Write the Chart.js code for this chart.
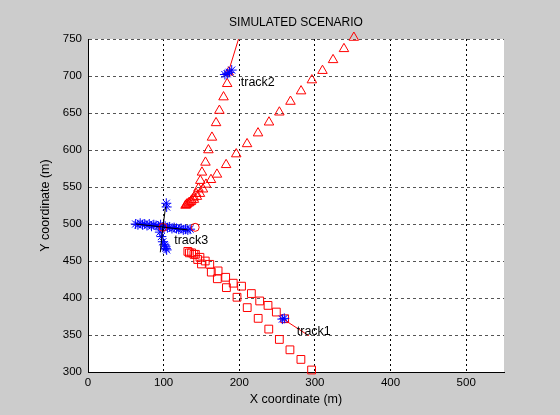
<!DOCTYPE html>
<html>
<head>
<meta charset="utf-8">
<script src="https://cdn.jsdelivr.net/npm/chart.js@4.4.1/dist/chart.umd.min.js"></script>
<style>
  html, body { margin: 0; padding: 0; background: #cccccc; }
  canvas { display: block; }
</style>
</head>
<body>
<canvas id="myChart" width="560" height="415"></canvas>
<script>
// axis ticks
const xTicks = [0, 100, 200, 300, 400, 500],
    yTicks = [300, 350, 400, 450, 500, 550, 600, 650, 700, 750];

// track1 (squares), two rows
const track1aX = [132, 137, 142, 148, 155, 161, 172, 182, 192, 203, 216, 227, 238, 249, 260],
    track1aY = [463, 461, 459, 455, 450, 445.5, 436.6, 428, 420, 416, 406, 396, 390, 381, 372],
    track1bX = [134, 140, 145, 150, 163, 171, 183, 197, 210.5, 225, 239, 253, 267, 281.5, 295.6],
    track1bY = [461, 459, 452, 446, 435, 426, 414, 401, 387, 372.5, 358, 344, 330, 317, 302.7];

// track2 (triangles), steep row and wide row
const track2aX = [129, 131, 134, 137, 140, 143, 146, 148.5, 150.7, 155.3, 159.2, 163.9, 169.3, 173.7, 179.2, 184, 186],
    track2aY = [525, 527, 529, 532, 536, 541, 548, 558.6, 569.8, 583.2, 600, 617, 636.6, 653.3, 671.5, 689.5, 705],
    track2bX = [130, 133, 136, 140, 144, 148, 152, 156, 162.6, 170.5, 182.6, 196, 210.3, 224.8, 239.3, 253, 267.7, 281.7, 296, 310, 324, 338.4, 351.5],
    track2bY = [526, 528, 530, 533, 537, 541, 547, 553.5, 559.8, 567, 580, 594.5, 608.2, 622.8, 637.5, 651, 665.5, 679.6, 694.5, 707.2, 721.8, 736.7, 752];

// blue detections (stars)
const starX = [63, 66, 69, 72, 75, 78, 81, 84, 87, 90, 93, 96, 99, 102, 105, 108, 111, 114, 117, 120, 123, 126, 129, 132, 135,
        95, 97, 99, 101, 102, 103, 104, 103.5, 104,
        181, 184, 187, 190,
        257, 259.5],
    starY = [500, 499, 501, 499, 500, 498, 500, 497, 499, 498, 497, 499, 496, 497, 495, 496, 494, 495, 494, 493, 494, 492, 493, 492, 493,
        489, 483, 476, 472, 470, 467, 465, 528, 523,
        702, 703, 705, 708,
        371.5, 372.5];

// red circles
const circleX = [99, 141.7],
    circleY = [495.5, 495.5];

// lines
const redLine2X = [184, 199], redLine2Y = [700, 750],
    redLine1X = [258, 292], redLine1Y = [371.5, 349],
    blackLineHX = [63.5, 131.7], blackLineHY = [500, 492],
    blackLineVX = [102.6, 99, 95.6], blackLineVY = [523.4, 495.5, 461.7];

// track labels
const trackNames = ['track1', 'track2', 'track3'],
    trackNameX = [276, 202, 114],
    trackNameY = [354, 691, 478];

const font = 'Liberation Sans, Arial, Helvetica, sans-serif';

function pts(xs, ys) {
    return xs.map((x, i) => ({ x: x, y: ys[i] }));
}

function markers(data, style, color, radius, order) {
    return {
        data: data,
        showLine: false,
        pointStyle: style,
        pointRadius: radius,
        borderColor: color,
        backgroundColor: 'rgba(0,0,0,0)',
        pointBorderWidth: 1,
        clip: false,
        order: order
    };
}

function line(data, color, order) {
    return {
        data: data,
        showLine: true,
        pointRadius: 0,
        borderColor: color,
        borderWidth: 1,
        fill: false,
        clip: false,
        order: order
    };
}

// grey figure and white axes
const background = {
    id: 'background',
    beforeDraw(chart) {
        const { ctx, chartArea } = chart;
        ctx.save();
        ctx.fillStyle = '#cccccc';
        ctx.fillRect(0, 0, chart.width, chart.height);
        ctx.fillStyle = '#ffffff';
        ctx.fillRect(chartArea.left, chartArea.top, chartArea.right - chartArea.left, chartArea.bottom - chartArea.top);
        ctx.restore();
    }
};

// track names placed with the scales
const trackText = {
    id: 'trackText',
    afterDatasetsDraw(chart) {
        const { ctx, scales } = chart;
        ctx.save();
        ctx.fillStyle = '#000';
        ctx.font = '12.5px ' + font;
        ctx.textAlign = 'left';
        ctx.textBaseline = 'middle';
        trackNames.forEach((name, i) => {
            ctx.fillText(name, scales.x.getPixelForValue(trackNameX[i]), scales.y.getPixelForValue(trackNameY[i]));
        });
        ctx.restore();
    }
};

const ctx = document.getElementById('myChart');

const myChart = new Chart(ctx, {
    type: 'scatter',
    data: {
        datasets: [
            line(pts(blackLineHX, blackLineHY), '#000000', 0),
            line(pts(blackLineVX, blackLineVY), '#000000', 0),
            markers(pts(circleX, circleY), 'circle', '#ff0000', 4, 1),
            markers(pts(starX, starY), 'star', '#0000ff', 5, 2),
            line(pts(redLine2X, redLine2Y), '#ff0000', 3),
            line(pts(redLine1X, redLine1Y), '#ff0000', 3),
            markers(pts(track1aX, track1aY), 'rect', '#ff0000', 5.5, 4),
            markers(pts(track1bX, track1bY), 'rect', '#ff0000', 5.5, 4),
            markers(pts(track2aX, track2aY), 'triangle', '#ff0000', 5.5, 4),
            markers(pts(track2bX, track2bY), 'triangle', '#ff0000', 5.5, 4)
        ]
    },
    options: {
        responsive: false,
        animation: false,
        events: [],
        layout: { padding: { right: 56 } },
        plugins: {
            legend: { display: false },
            tooltip: { enabled: false },
            title: {
                display: true,
                text: 'SIMULATED SCENARIO',
                color: '#000',
                fullSize: false,
                font: { family: font, size: 12, weight: 'normal' },
                padding: { top: 15, bottom: 9.6 }
            }
        },
        scales: {
            x: {
                type: 'linear',
                min: 0,
                max: 550,
                afterBuildTicks: (s) => { s.ticks = xTicks.map(v => ({ value: v })); },
                afterFit: (s) => { s.height = 43; },
                grid: { color: '#000', drawTicks: false, lineWidth: 1 },
                border: { display: true, color: '#000', width: 1, dash: [2, 3] },
                ticks: { color: '#000', padding: 4, maxRotation: 0, font: { family: font, size: 11.5 } },
                title: {
                    display: true,
                    text: 'X coordinate (m)',
                    color: '#000',
                    font: { family: font, size: 12.5 },
                    padding: { top: 0, bottom: 7.5 }
                }
            },
            y: {
                type: 'linear',
                min: 300,
                max: 750,
                afterBuildTicks: (s) => { s.ticks = yTicks.map(v => ({ value: v })); },
                afterFit: (s) => { s.width = 88; },
                grid: { color: '#555', drawTicks: false, lineWidth: 1 },
                border: { display: true, color: '#000', width: 1, dash: [3, 3] },
                ticks: { color: '#000', padding: 6, font: { family: font, size: 11.5 } },
                title: {
                    display: true,
                    text: 'Y coordinate (m)',
                    color: '#000',
                    font: { family: font, size: 12.5 },
                    padding: { top: 38.5, bottom: 0 }
                }
            }
        }
    },
    plugins: [background, trackText]
});
</script>
</body>
</html>
